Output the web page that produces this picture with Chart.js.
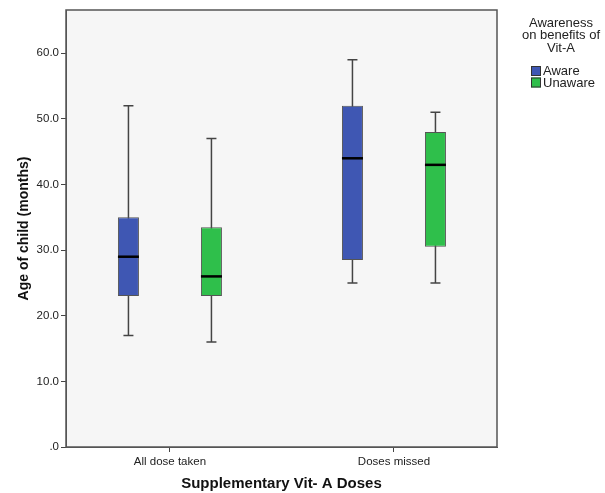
<!DOCTYPE html>
<html>
<head>
<meta charset="utf-8">
<script src="https://cdn.jsdelivr.net/npm/chart.js@4.4.1/dist/chart.umd.min.js"></script>
<style>
  html, body { margin: 0; padding: 0; background: #fff; }
</style>
</head>
<body>
<canvas id="boxCanvas" width="605" height="493"></canvas>
<script>
// Box plot: age of child by dose status and awareness
const categories = ["All dose taken", "Doses missed"];
const seriesNames = ["Aware", "Unaware"];

const awareMin = [17, 25];
const awareQ1 = [23, 28.5];
const awareMedian = [29, 44];
const awareQ3 = [35, 52];
const awareMax = [52, 59];

const unawareMin = [16, 25];
const unawareQ1 = [23, 30.5];
const unawareMedian = [26, 43];
const unawareQ3 = [33.5, 48];
const unawareMax = [47, 51];

const yTicks = [0, 10, 20, 30, 40, 50, 60];
const legendTitle = ["Awareness", "on benefits of", "Vit-A"];

const stats = [
    { min: awareMin, med: awareMedian, max: awareMax },
    { min: unawareMin, med: unawareMedian, max: unawareMax },
];

Chart.defaults.font.family = '"Liberation Sans", Arial, sans-serif';

// whiskers go under the boxes, medians on top
const boxExtras = {
    id: "boxExtras",
    beforeDraw(chart) {
        const { ctx, chartArea: a } = chart;
        ctx.save();
        ctx.fillStyle = "#fff";
        ctx.fillRect(0, 0, chart.width, chart.height);
        ctx.fillStyle = "#f6f6f6";
        ctx.fillRect(a.left, a.top, a.right - a.left, a.bottom - a.top);
        ctx.restore();
    },
    beforeDatasetsDraw(chart) {
        const { ctx, scales: { y } } = chart;
        ctx.save();
        ctx.strokeStyle = "#444";
        ctx.lineWidth = 1.5;
        stats.forEach((s, i) => {
            chart.getDatasetMeta(i).data.forEach((bar, j) => {
                const top = y.getPixelForValue(s.max[j]);
                const bot = y.getPixelForValue(s.min[j]);
                ctx.beginPath();
                ctx.moveTo(bar.x, top);
                ctx.lineTo(bar.x, bot);
                ctx.moveTo(bar.x - 5, top);
                ctx.lineTo(bar.x + 5, top);
                ctx.moveTo(bar.x - 5, bot);
                ctx.lineTo(bar.x + 5, bot);
                ctx.stroke();
            });
        });
        ctx.restore();
    },
    afterDatasetsDraw(chart) {
        const { ctx, scales: { y } } = chart;
        ctx.save();
        ctx.strokeStyle = "#000";
        ctx.lineWidth = 2.5;
        stats.forEach((s, i) => {
            chart.getDatasetMeta(i).data.forEach((bar, j) => {
                const my = y.getPixelForValue(s.med[j]);
                ctx.beginPath();
                ctx.moveTo(bar.x - bar.width / 2, my);
                ctx.lineTo(bar.x + bar.width / 2, my);
                ctx.stroke();
            });
        });
        ctx.restore();
    },
    afterDraw(chart) {
        const { ctx, chartArea: a } = chart;
        ctx.save();
        ctx.strokeStyle = "#555";
        ctx.lineWidth = 1.5;
        ctx.strokeRect(a.left, a.top, a.right - a.left, a.bottom - a.top);

        // legend
        ctx.font = '13px "Liberation Sans", Arial, sans-serif';
        ctx.fillStyle = "#222";
        ctx.textAlign = "center";
        ctx.textBaseline = "middle";
        legendTitle.forEach((t, k) => ctx.fillText(t, 561, 23 + k * 12.5));
        ctx.textAlign = "left";
        chart.data.datasets.forEach((ds, k) => {
            const cy = 71 + k * 11.5;
            ctx.fillStyle = ds.backgroundColor;
            ctx.fillRect(531, cy - 5, 10, 10);
            ctx.strokeStyle = "#333";
            ctx.lineWidth = 1;
            ctx.strokeRect(531.5, cy - 4.5, 9, 9);
            ctx.fillStyle = "#222";
            ctx.fillText(ds.label, 543, cy + 0.5);
        });
        ctx.restore();
    },
};

const boxChart = new Chart(document.getElementById("boxCanvas"), {
    type: "bar",
    data: {
        datasets: [
            {
                label: seriesNames[0],
                data: categories.map((c, i) => ({ x: i, y: [awareQ1[i], awareQ3[i]] })),
                backgroundColor: "#3f57b3",
                borderColor: "#555",
                borderWidth: 1,
                borderSkipped: false,
            },
            {
                label: seriesNames[1],
                data: categories.map((c, i) => ({ x: i, y: [unawareQ1[i], unawareQ3[i]] })),
                backgroundColor: "#2fbf4b",
                borderColor: "#555",
                borderWidth: 1,
                borderSkipped: false,
            },
        ],
    },
    options: {
        responsive: false,
        animation: false,
        devicePixelRatio: 1,
        categoryPercentage: 0.741,
        barPercentage: 0.253,
        layout: { padding: { top: 10, right: 108, left: 0, bottom: 0 } },
        plugins: { legend: { display: false }, tooltip: { enabled: false } },
        scales: {
            x: {
                type: "linear",
                offset: false,
                min: -0.464,
                max: 1.46,
                afterBuildTicks: (s) => { s.ticks = categories.map((c, i) => ({ value: i })); },
                afterFit: (s) => { s.height = 46; },
                ticks: {
                    callback: (v) => categories[v],
                    autoSkip: false,
                    maxRotation: 0,
                    color: "#222",
                    font: { size: 11.5 },
                    padding: 3,
                },
                grid: { drawOnChartArea: false, offset: false, tickLength: 5, color: "#444" },
                border: { color: "#555" },
                title: {
                    display: true,
                    text: "Supplementary Vit- A Doses",
                    color: "#111",
                    font: { size: 15, weight: "bold" },
                    padding: { top: 0, bottom: 0 },
                },
            },
            y: {
                min: 0,
                max: 66.6,
                afterBuildTicks: (s) => { s.ticks = yTicks.map((v) => ({ value: v })); },
                afterFit: (s) => { s.width = 66; },
                ticks: {
                    callback: (v) => (v === 0 ? ".0" : v.toFixed(1)),
                    color: "#222",
                    font: { size: 11.5 },
                    padding: 2,
                },
                grid: { drawOnChartArea: false, tickLength: 5, color: "#444" },
                border: { color: "#555" },
                title: {
                    display: true,
                    text: "Age of child (months)",
                    color: "#111",
                    font: { size: 14, weight: "bold" },
                    padding: { top: 16, bottom: 0 },
                },
            },
        },
    },
    plugins: [boxExtras],
});
</script>
</body>
</html>
